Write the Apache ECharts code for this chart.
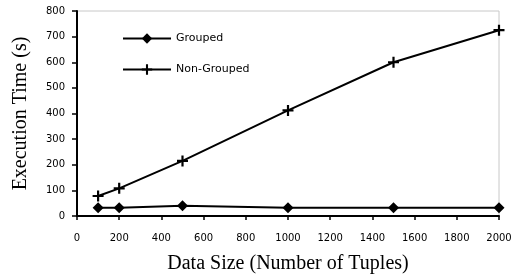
<!DOCTYPE html>
<html>
<head>
<meta charset="utf-8">
<script src="https://cdn.jsdelivr.net/npm/echarts@6/dist/echarts.min.js"></script>
<style>
  html, body { margin: 0; padding: 0; background: #fff; }
  #chart { width: 516px; height: 275px; }
</style>
</head>
<body>
<div id="chart"></div>
<script>
// data
const sizes = [100, 200, 500, 1000, 1500, 2000]
const grouped = [32, 32, 40, 32, 32, 32]
const nonGrouped = [78, 108, 215, 412, 600, 725]

const plusIcon = 'path://M4,0 L6,0 L6,4 L10,4 L10,6 L6,6 L6,10 L4,10 L4,6 L0,6 L0,4 L4,4 Z'

const tickFont = { fontFamily: 'DejaVu Sans, sans-serif', fontSize: 10, color: '#000' }
const titleFont = { fontFamily: 'Liberation Serif, Times New Roman, serif', fontSize: 20, color: '#000' }

let dom = document.getElementById('chart')
let chart = echarts.init(dom, null, { renderer: 'canvas' })

chart.setOption({
  animation: false,
  backgroundColor: '#fff',
  grid: {
    left: 77, right: 17, top: 11, bottom: 59,
    containLabel: false, outerBoundsMode: 'none',
    show: true, borderColor: '#c8c8c8', borderWidth: 1
  },
  legend: {
    orient: 'vertical',
    left: 117,
    top: 28,
    itemWidth: 48,
    itemHeight: 13,
    itemGap: 20,
    textStyle: { fontFamily: 'DejaVu Sans, sans-serif', fontSize: 11, color: '#000' },
    data: ['Grouped', 'Non-Grouped']
  },
  xAxis: {
    type: 'value',
    min: 0,
    max: 2000,
    interval: 200,
    name: 'Data Size (Number of Tuples)',
    nameLocation: 'middle',
    nameGap: 38,
    nameTextStyle: titleFont,
    axisLine: { lineStyle: { color: '#000', width: 2 } },
    axisTick: { show: true, inside: false, length: 4, lineStyle: { color: '#000', width: 1.5 } },
    axisLabel: Object.assign({ margin: 17, formatter: v => String(v) }, tickFont),
    splitLine: { show: false }
  },
  yAxis: {
    type: 'value',
    min: 0,
    max: 800,
    interval: 100,
    name: 'Execution Time (s)',
    nameLocation: 'middle',
    nameGap: 46,
    nameTextStyle: titleFont,
    axisLine: { show: true, lineStyle: { color: '#000', width: 2 } },
    axisTick: { show: true, length: 5, lineStyle: { color: '#000', width: 1.5 } },
    axisLabel: Object.assign({ margin: 12 }, tickFont),
    splitLine: { show: false }
  },
  series: [
    {
      name: 'Grouped',
      type: 'line',
      data: sizes.map((s, i) => [s, grouped[i]]),
      symbol: 'diamond',
      symbolSize: 11,
      itemStyle: { color: '#000' },
      lineStyle: { color: '#000', width: 2 }
    },
    {
      name: 'Non-Grouped',
      type: 'line',
      data: sizes.map((s, i) => [s, nonGrouped[i]]),
      symbol: plusIcon,
      symbolSize: 11,
      itemStyle: { color: '#000' },
      lineStyle: { color: '#000', width: 2 }
    }
  ]
})

window.addEventListener('resize', () => {
  chart.resize()
})
</script>
</body>
</html>
